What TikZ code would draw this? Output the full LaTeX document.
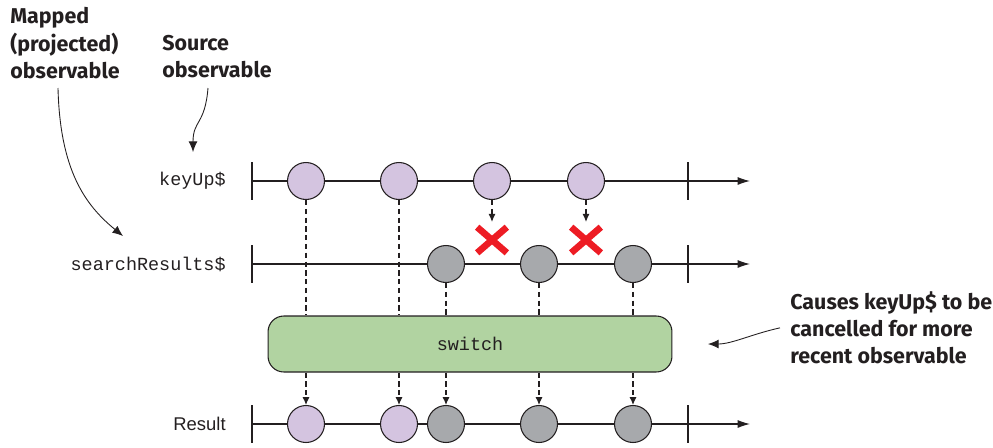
\documentclass[tikz,border=0pt]{standalone}
\usepackage{fontspec}
\setmainfont{Liberation Sans}
\setmonofont{Liberation Mono}
\newfontfamily\notefont{Fira Sans}
\usetikzlibrary{arrows.meta, positioning, shapes.misc}
\definecolor{lilac}{RGB}{212,196,224}
\definecolor{marblegray}{RGB}{167,169,172}
\definecolor{switchgreen}{RGB}{177,211,161}
\definecolor{crossred}{RGB}{237,28,36}
\definecolor{inkgray}{RGB}{35,31,32}
\tikzset{
    marble/.style={
        circle,
        draw=inkgray,
        line width=0.6pt,
        minimum size=0.74cm,
        inner sep=0pt
    },
    srcmarble/.style={marble, fill=lilac},
    outmarble/.style={marble, fill=marblegray},
    timeline/.style={
        -{Latex[length=7pt,width=4.5pt]},
        line width=0.6pt,
        draw=inkgray
    },
    endtick/.style={line width=0.9pt, draw=inkgray},
    dashline/.style={dashed, dash pattern=on 3pt off 2pt, line width=0.6pt, draw=inkgray},
    dasharrow/.style={dashline, -{Latex[length=4.5pt,width=4pt]}},
    cancelmark/.style={
        cross out,
        draw=crossred,
        line width=3.8pt,
        minimum width=0.46cm,
        minimum height=0.38cm,
        inner sep=0pt
    },
    rowlabel/.style={font=\ttfamily\fontsize{10.5}{12}\selectfont, text=inkgray, inner sep=0pt},
    note/.style={font=\notefont\bfseries\fontsize{12.2}{15.6}\selectfont, text=inkgray,
        align=left, inner sep=0pt, anchor=north west},
    callout/.style={-{Latex[length=6pt,width=5pt]}, line width=0.5pt, draw=inkgray}
}

\begin{document}
\begin{tikzpicture}[x=0.02cm, y=-0.02cm]
    \useasboundingbox (0,0) rectangle (993,447);

    % Time lines
    \coordinate (kstart) at (252,181);
    \coordinate (kend) at (750,181);
    \coordinate (sstart) at (252,264);
    \coordinate (send) at (750,264);
    \coordinate (rstart) at (252,424);
    \coordinate (rend) at (750,424);
    \draw[timeline] (kstart) -- (kend);
    \draw[timeline] (sstart) -- (send);
    \draw[timeline] (rstart) -- (rend);
    \draw[endtick] (kstart) ++(0,-19) -- ++(0,38);
    \draw[endtick] (688,181) ++(0,-19) -- ++(0,38);
    \draw[endtick] (sstart) ++(0,-19) -- ++(0,38);
    \draw[endtick] (688,264) ++(0,-19) -- ++(0,38);
    \draw[endtick] (rstart) ++(0,-19) -- ++(0,38);
    \draw[endtick] (688,424) ++(0,-19) -- ++(0,38);

    % Row labels
    \node[rowlabel, anchor=east, left=0.52cm of kstart] (keylabel) {keyUp\$};
    \node[rowlabel, anchor=east, left=0.52cm of sstart] (searchlabel) {searchResults\$};
    \node[anchor=east, left=0.52cm of rstart, inner sep=0pt, text=inkgray,
        font=\fontsize{10.5}{12}\selectfont] (resultlabel) {Result};

    % Source marbles
    \node[srcmarble] (k1) at (306,181) {};
    \node[srcmarble] (k2) at (399,181) {};
    \node[srcmarble] (k3) at (492,181) {};
    \node[srcmarble] (k4) at (586,181) {};

    % Projected marbles
    \node[outmarble] (s1) at (446,264) {};
    \node[outmarble] (s2) at (539,264) {};
    \node[outmarble] (s3) at (633,264) {};

    % Cancelled values
    \node[cancelmark] (x1) at (492,240) {};
    \node[cancelmark] (x2) at (586,240) {};
    \draw[dasharrow, shorten >=3pt] (k3.south) -- (x1.north);
    \draw[dasharrow, shorten >=3pt] (k4.south) -- (x2.north);

    % Operator box
    \node[rectangle, rounded corners=9pt, draw=inkgray, line width=0.6pt, fill=switchgreen,
        minimum width=8.08cm, minimum height=1.12cm, text=inkgray,
        font=\ttfamily\fontsize{10.5}{12}\selectfont] (switch) at (470,344) {switch};

    \draw[dashline] (k1.south) -- (k1.south |- switch.north);
    \draw[dashline] (k2.south) -- (k2.south |- switch.north);
    \draw[dashline] (s1.south) -- (s1.south |- switch.north);
    \draw[dashline] (s2.south) -- (s2.south |- switch.north);
    \draw[dashline] (s3.south) -- (s3.south |- switch.north);

    % Result marbles
    \node[srcmarble] (r1) at (306,424) {};
    \node[srcmarble] (r2) at (399,424) {};
    \node[outmarble] (r3) at (446,424) {};
    \node[outmarble] (r4) at (539,424) {};
    \node[outmarble] (r5) at (633,424) {};
    \draw[dasharrow] (switch.south -| r1) -- (r1.north);
    \draw[dasharrow] (switch.south -| r2) -- (r2.north);
    \draw[dasharrow] (switch.south -| r3) -- (r3.north);
    \draw[dasharrow] (switch.south -| r4) -- (r4.north);
    \draw[dasharrow] (switch.south -| r5) -- (r5.north);

    % Annotations
    \node[note] (mapped) at (10,7) {Mapped\\(projected)\\observable};
    \node[note] (source) at (162,35) {Source\\observable};
    \node[note] (causes) at (790,291) {Causes keyUp\$ to be\\cancelled for more\\recent observable};

    \coordinate (mappedtip) at (123,236);
    \coordinate (sourcetip) at (193,152);
    \coordinate (causestip) at (708,344);
    \draw[callout] (58,88) .. controls (60,170) and (85,205) .. (mappedtip);
    \draw[callout] (208,88) .. controls (205,125) and (193,120) .. (sourcetip);
    \draw[callout] (causes.west) ++(-10,0) .. controls (752,334) and (732,344) .. (causestip);
\end{tikzpicture}
\end{document}
